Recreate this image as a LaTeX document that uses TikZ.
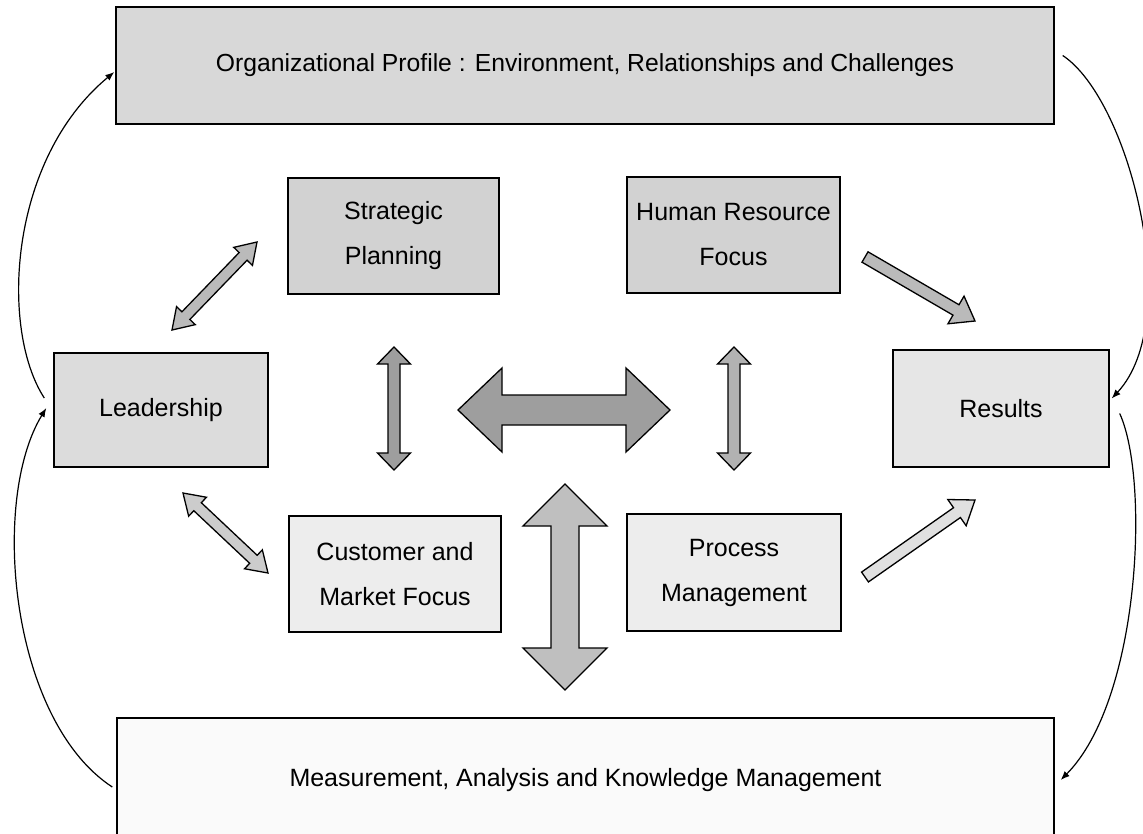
\documentclass[tikz,border=0pt]{standalone}
\usepackage{fontspec}
\setmainfont{Liberation Sans}
\usetikzlibrary{calc,arrows.meta}
\definecolor{gTop}{HTML}{D8D8D8}
\definecolor{gSP}{HTML}{D2D2D2}
\definecolor{gLead}{HTML}{DCDCDC}
\definecolor{gRes}{HTML}{E6E6E6}
\definecolor{gLow}{HTML}{EDEDED}
\definecolor{gMeas}{HTML}{FAFAFA}
\tikzset{
  box/.style={draw=black, line width=1.4pt, inner sep=0pt, align=center,
    font=\fontsize{25}{45}\selectfont},
  blk/.style={draw=black, line width=1.3pt, line join=miter},
  link/.style={draw=black, line width=1.2pt, -{Latex[length=9pt,width=7pt]}},
}
% double block arrow: #1 from, #2 to, #3 shaft half, #4 head half, #5 head length, #6 style
\newcommand{\dblblk}[6]{%
  \coordinate (#1-p) at ($(#1)!#5!(#2)$);
  \coordinate (#2-p) at ($(#2)!#5!(#1)$);
  \path[blk,#6] (#1) -- ($(#1-p)!#4!90:(#2)$) -- ($(#1-p)!#3!90:(#2)$)
    -- ($(#2-p)!#3!-90:(#1)$) -- ($(#2-p)!#4!-90:(#1)$) -- (#2)
    -- ($(#2-p)!#4!90:(#1)$) -- ($(#2-p)!#3!90:(#1)$)
    -- ($(#1-p)!#3!-90:(#2)$) -- ($(#1-p)!#4!-90:(#2)$) -- cycle;}
% single block arrow
\newcommand{\sglblk}[6]{%
  \coordinate (#2-p) at ($(#2)!#5!(#1)$);
  \path[blk,#6] ($(#1)!#3!90:(#2)$) -- ($(#2-p)!#3!-90:(#1)$)
    -- ($(#2-p)!#4!-90:(#1)$) -- (#2) -- ($(#2-p)!#4!90:(#1)$)
    -- ($(#2-p)!#3!90:(#1)$) -- ($(#1)!#3!-90:(#2)$) -- cycle;}
\begin{document}
\begin{tikzpicture}[x=1pt,y=-1pt]
\useasboundingbox (0,0) rectangle (1143,833);
\clip (0,0) rectangle (1143,833);
\fill[white] (0,0) rectangle (1143,833);

% boxes
\node[box, fill=gTop, minimum width=938pt, minimum height=117pt,
  font=\fontsize{24.7}{45}\selectfont] (top) at (585,65.5)
  {Organizational Profile : Environment, Relationships and Challenges};
\node[box, fill=gSP, minimum width=211pt, minimum height=116pt] (sp) at (393.5,236)
  {Strategic\\Planning};
\node[box, fill=gSP, minimum width=213pt, minimum height=116pt] (hr) at (733.5,235)
  {Human Resource\\Focus};
\node[box, fill=gLead, minimum width=214pt, minimum height=114pt] (lead) at (161,410)
  {Leadership};
\node[box, fill=gRes, minimum width=216pt, minimum height=117pt] (res) at (1001,408.5)
  {Results};
\node[box, fill=gLow, minimum width=212pt, minimum height=116pt] (cm) at (395,574)
  {Customer and\\Market Focus};
\node[box, fill=gLow, minimum width=214pt, minimum height=117pt] (pm) at (734,572.5)
  {Process\\Management};
\node[box, fill=gMeas, minimum width=937pt, minimum height=124pt] (meas) at (585.5,780)
  {Measurement, Analysis and Knowledge Management};

% block arrow end points
\coordinate (d1a) at (172,330);  \coordinate (d1b) at (257,242);
\coordinate (d2a) at (183,493);  \coordinate (d2b) at (268,573);
\coordinate (v1a) at (394,347);  \coordinate (v1b) at (394,470);
\coordinate (v2a) at (734,347);  \coordinate (v2b) at (734,470);
\coordinate (ha)  at (458,410);  \coordinate (hb)  at (670,410);
\coordinate (va)  at (565,484);  \coordinate (vb)  at (565,690);
\coordinate (s1a) at (865,257);  \coordinate (s1b) at (975,321);
\coordinate (s2a) at (865,577);  \coordinate (s2b) at (975,500);

\dblblk{d1a}{d1b}{5.5pt}{13pt}{20pt}{fill=black!27}
\dblblk{d2a}{d2b}{5.5pt}{13pt}{20pt}{fill=black!20}
\dblblk{v1a}{v1b}{6pt}{16.5pt}{17pt}{fill=black!38}
\dblblk{v2a}{v2b}{6pt}{16.5pt}{17pt}{fill=black!30}
\dblblk{ha}{hb}{15pt}{42pt}{44pt}{fill=black!38}
\dblblk{va}{vb}{14pt}{42pt}{42pt}{fill=black!25}
\sglblk{s1a}{s1b}{6pt}{16pt}{22pt}{fill=black!27}
\sglblk{s2a}{s2b}{6pt}{16pt}{22pt}{fill=black!12}

% feedback curves
\draw[link] ($(lead.west)+(-9,-12)$) .. controls (0,330) and (8,160) .. ($(top.west)+(-1,6.5)$);
\draw[link] ($(top.east)+(8,-10)$) .. controls (1130,100) and (1185,320) .. ($(res.east)+(2,-10)$);
\draw[link] ($(res.east)+(10,5)$) .. controls (1150,480) and (1140,700) .. ($(meas.east)+(6,0)$);
\draw[link] ($(meas.west)+(-4,7)$) .. controls (10,720) and (-10,500) .. ($(lead.west)+(-7,-2)$);
\end{tikzpicture}
\end{document}
